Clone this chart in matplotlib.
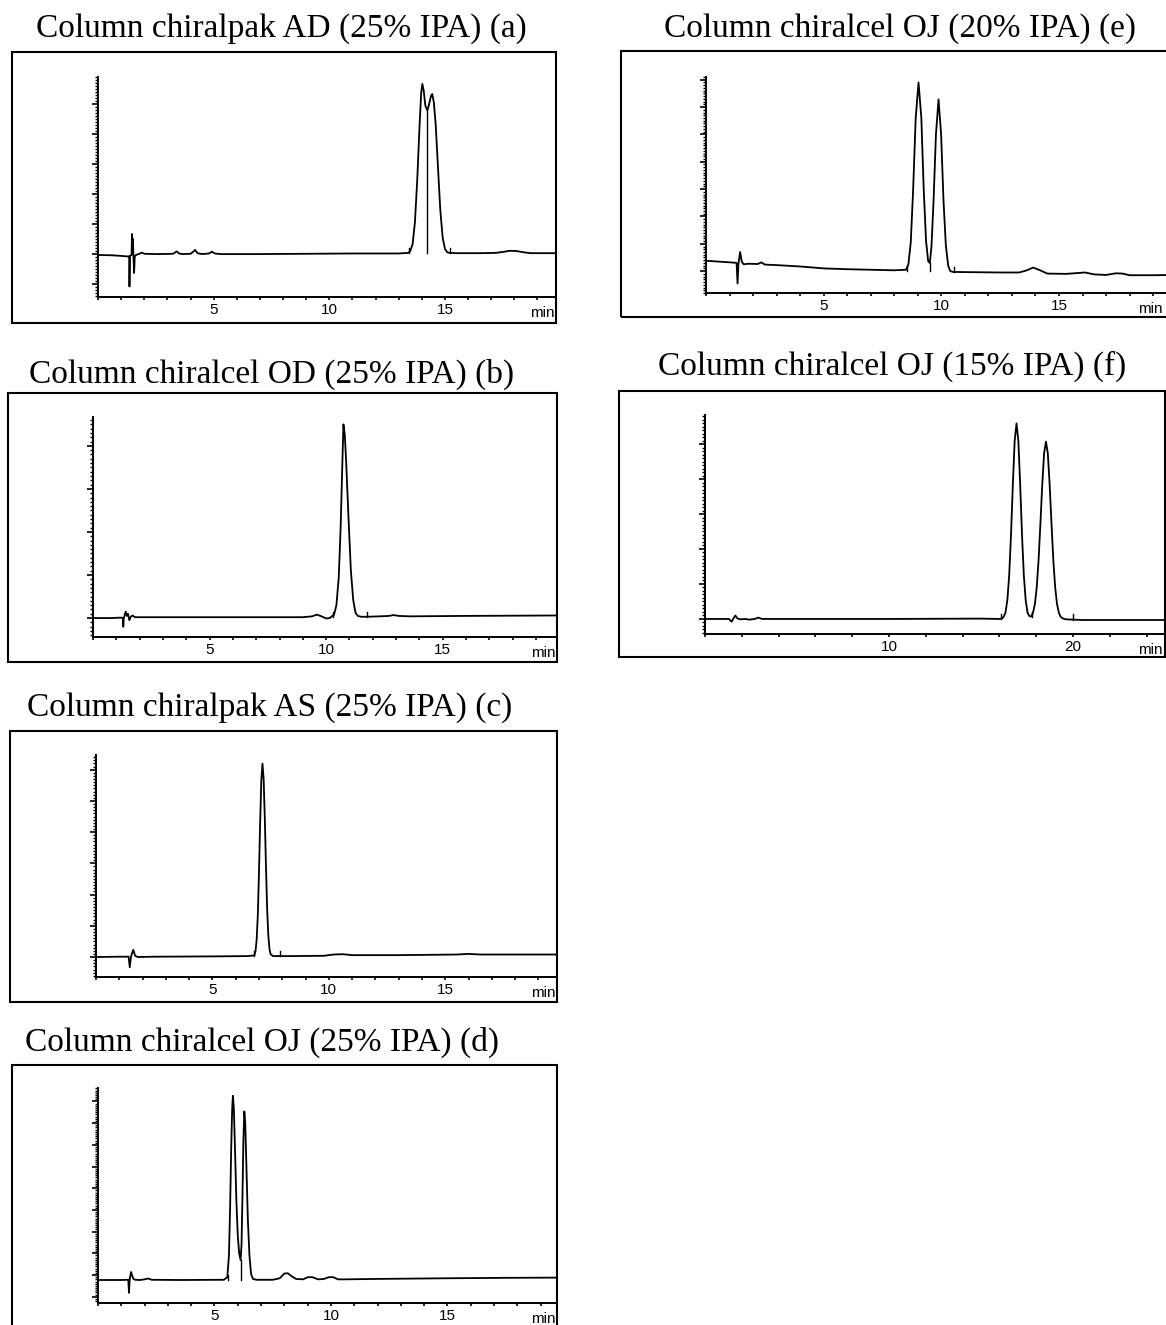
import matplotlib
matplotlib.use("Agg")
import matplotlib.pyplot as plt
from matplotlib.ticker import MultipleLocator, FuncFormatter
from matplotlib.patches import Rectangle

W, H = 1166, 1325

# ---- chromatogram traces: (time in min, signal in major-tick units) ----
a_trace = [(0.0, -0.03), (0.6, -0.04), (1.0, -0.06), (1.3, -0.08), (1.35, -0.07), (1.36, -1.08),
           (1.38, -0.06), (1.45, -0.03), (1.47, 0.67), (1.49, 0.40), (1.51, 0.50), (1.53, -0.02),
           (1.56, -0.63), (1.59, -0.08), (1.64, -0.03), (1.75, 0.0), (1.9, 0.05), (2.0, 0.01),
           (2.6, 0.0), (3.25, 0.01), (3.4, 0.09), (3.5, 0.02), (3.65, 0.0), (4.0, 0.01),
           (4.12, 0.08), (4.2, 0.14), (4.3, 0.03), (4.5, 0.0), (4.8, 0.02), (4.92, 0.08),
           (5.05, 0.02), (5.3, 0.0), (7.0, 0.0), (9.0, 0.01), (11.0, 0.02), (13.0, 0.02),
           (13.4, 0.04), (13.5, 0.10), (13.6, 0.33), (13.7, 1.05), (13.8, 2.45), (13.9, 4.25),
           (13.97, 5.35), (14.02, 5.67), (14.08, 5.45), (14.15, 4.95), (14.24, 4.78), (14.33, 5.05),
           (14.4, 5.28), (14.45, 5.33), (14.52, 5.05), (14.6, 4.30), (14.7, 2.85), (14.8, 1.45),
           (14.9, 0.55), (15.0, 0.17), (15.1, 0.06), (15.2, 0.04), (15.5, 0.03), (16.5, 0.03),
           (17.2, 0.04), (17.5, 0.07), (17.8, 0.11), (18.1, 0.10), (18.4, 0.06), (18.7, 0.03),
           (19.2, 0.03), (19.8, 0.03)]
a_marks = [(13.45, 0.04, 0.2), (15.2, 0.04, 0.2), (14.24, 0.03, 4.78)]

b_trace = [(0.0, 0.0), (0.8, 0.0), (1.2, 0.01), (1.28, 0.0), (1.3, -0.2), (1.32, 0.0), (1.4, 0.15),
           (1.45, 0.05), (1.5, 0.1), (1.56, -0.05), (1.62, 0.03), (1.7, 0.06), (1.8, 0.02),
           (2.0, 0.02), (4.0, 0.02), (7.0, 0.02), (9.0, 0.02), (9.4, 0.04), (9.6, 0.08),
           (9.8, 0.04), (10.0, -0.01), (10.15, 0.0), (10.24, 0.04), (10.34, 0.08), (10.44, 0.30),
           (10.54, 0.95), (10.62, 2.09), (10.68, 3.3), (10.74, 4.5), (10.8, 4.25), (10.86, 3.6),
           (10.96, 2.3), (11.06, 1.1), (11.16, 0.42), (11.26, 0.12), (11.36, 0.05), (11.5, 0.03),
           (11.7, 0.03), (12.3, 0.04), (12.7, 0.05), (12.9, 0.07), (13.1, 0.05), (13.6, 0.04),
           (16.0, 0.05), (19.9, 0.06)]
b_marks = [(10.3, 0.03, 0.15), (11.75, 0.03, 0.15)]

c_trace = [(0.0, 0.0), (1.0, 0.01), (1.4, 0.01), (1.45, -0.33), (1.5, 0.0), (1.55, 0.12),
           (1.6, 0.23), (1.68, 0.04), (1.8, 0.0), (2.5, 0.01), (5.0, 0.02), (6.5, 0.03),
           (6.8, 0.05), (6.85, 0.18), (6.9, 0.55), (6.95, 1.35), (7.0, 2.7), (7.05, 4.3),
           (7.1, 5.65), (7.15, 6.19), (7.2, 5.7), (7.25, 4.45), (7.3, 2.9), (7.35, 1.55),
           (7.4, 0.7), (7.45, 0.26), (7.5, 0.09), (7.6, 0.03), (8.5, 0.03), (9.8, 0.04),
           (10.2, 0.08), (10.6, 0.09), (11.0, 0.06), (13.0, 0.06), (15.5, 0.08), (16.0, 0.10),
           (16.5, 0.08), (19.8, 0.08)]
c_marks = [(6.8, 0.03, 0.18), (7.9, 0.03, 0.2)]

d_trace = [(0.0, -0.23), (1.0, -0.23), (1.3, -0.22), (1.33, -0.82), (1.36, -0.22), (1.42, 0.14),
           (1.47, -0.05), (1.52, -0.18), (1.6, -0.22), (1.8, -0.23), (2.0, -0.2), (2.15, -0.16),
           (2.3, -0.22), (3.5, -0.23), (5.4, -0.22), (5.55, -0.1), (5.62, 0.9), (5.67, 3.1),
           (5.72, 6.0), (5.76, 7.7), (5.79, 8.26), (5.83, 7.7), (5.88, 5.8), (5.94, 3.4),
           (6.0, 1.8), (6.06, 1.0), (6.12, 0.69), (6.16, 1.4), (6.2, 3.6), (6.24, 6.2),
           (6.28, 7.54), (6.32, 7.0), (6.37, 5.0), (6.43, 2.6), (6.5, 0.9), (6.57, 0.05),
           (6.65, -0.18), (6.8, -0.22), (7.5, -0.22), (7.8, -0.15), (8.0, 0.07), (8.15, 0.08),
           (8.3, -0.05), (8.5, -0.18), (8.8, -0.2), (9.0, -0.1), (9.2, -0.1), (9.45, -0.2),
           (9.7, -0.18), (9.9, -0.1), (10.1, -0.1), (10.3, -0.2), (10.6, -0.2), (12.0, -0.18),
           (15.0, -0.15), (17.5, -0.13), (19.7, -0.12)]
d_marks = [(5.6, -0.22, 0.0), (6.12, -0.22, 0.69)]

e_trace = [(0.0, 0.38), (1.2, 0.31), (1.3, 0.3), (1.34, -0.45), (1.38, 0.28), (1.45, 0.7),
           (1.52, 0.35), (1.6, 0.25), (1.8, 0.27), (2.2, 0.26), (2.35, 0.32), (2.5, 0.24),
           (3.0, 0.22), (4.0, 0.17), (5.0, 0.1), (6.0, 0.07), (7.0, 0.05), (8.0, 0.03),
           (8.5, 0.05), (8.6, 0.25), (8.7, 1.05), (8.8, 2.95), (8.91, 5.6), (9.03, 6.9),
           (9.15, 5.6), (9.25, 3.0), (9.35, 1.1), (9.44, 0.36), (9.51, 0.3), (9.58, 0.9),
           (9.67, 2.6), (9.77, 5.0), (9.88, 6.28), (9.99, 5.0), (10.09, 2.6), (10.19, 0.95),
           (10.29, 0.2), (10.38, 0.0), (10.5, -0.03), (11.5, -0.04), (12.5, -0.05), (13.3, -0.05),
           (13.6, 0.02), (13.9, 0.13), (14.2, 0.03), (14.5, -0.09), (15.3, -0.1), (15.8, -0.07),
           (16.1, -0.05), (16.5, -0.12), (17.0, -0.14), (17.4, -0.08), (17.7, -0.09), (18.0, -0.15),
           (19.0, -0.15), (19.9, -0.14)]
e_marks = [(8.55, 0.02, 0.2), (9.51, 0.0, 0.3), (10.55, -0.03, 0.15)]

f_trace = [(0.0, 0.0), (1.3, 0.0), (1.45, -0.08), (1.55, 0.02), (1.65, 0.1), (1.75, 0.02),
           (1.9, -0.01), (2.2, 0.0), (2.4, -0.02), (2.7, 0.0), (2.9, 0.04), (3.1, 0.0),
           (5.0, 0.0), (10.0, 0.0), (15.0, 0.01), (16.0, 0.0), (16.13, 0.01), (16.23, 0.06),
           (16.33, 0.18), (16.43, 0.53), (16.53, 1.23), (16.63, 2.39), (16.73, 3.83), (16.83, 5.09),
           (16.93, 5.59), (17.03, 5.09), (17.13, 3.83), (17.23, 2.39), (17.33, 1.23), (17.43, 0.53),
           (17.53, 0.18), (17.63, 0.08), (17.73, 0.07), (17.83, 0.18), (17.93, 0.43), (18.03, 0.91),
           (18.13, 1.69), (18.23, 2.74), (18.33, 3.85), (18.43, 4.74), (18.53, 5.07), (18.63, 4.74),
           (18.73, 3.85), (18.83, 2.74), (18.93, 1.69), (19.03, 0.91), (19.13, 0.43), (19.23, 0.18),
           (19.33, 0.06), (19.43, 0.02), (19.6, -0.01), (20.5, -0.03), (25.0, -0.03)]
f_marks = [(16.1, 0.0, 0.15), (17.75, 0.07, 0.2), (20.0, -0.03, 0.15)]

titles = ["Column chiralpak AD (25% IPA) (a)", "Column chiralcel OD (25% IPA) (b)",
          "Column chiralpak AS (25% IPA) (c)", "Column chiralcel OJ (25% IPA) (d)",
          "Column chiralcel OJ (20% IPA) (e)", "Column chiralcel OJ (15% IPA) (f)"]

fig = plt.figure(figsize=(W / 100, H / 100), dpi=100)


def fx(x):
    return x / W


def fy(y):
    return 1 - y / H


def panel(title, title_pos, frame, box, trace, marks, xmax, ylim, xstep, lstep):
    # frame around the chromatogram
    fl, ft, fr, fb = frame
    fig.add_artist(Rectangle((fx(fl), fy(fb)), fx(fr - fl), (fb - ft) / H, fill=False,
                             lw=1.5, ec="black", transform=fig.transFigure))
    fig.text(fx(title_pos[0]), fy(title_pos[1]), title, ha="center", va="baseline",
             family="Liberation Serif", fontsize=24)

    l, t, r, b = box
    ax = fig.add_axes([fx(l), fy(b), fx(r - l), (b - t) / H])
    ts = [p[0] for p in trace]
    ys = [p[1] for p in trace]
    ax.plot(ts, ys, color="black", lw=1.3)
    for m in marks:
        ax.plot([m[0], m[0]], [m[1], m[2]], color="black", lw=1.0)
    ax.set_xlim(0, xmax)
    ax.set_ylim(*ylim)
    for s in ("top", "right"):
        ax.spines[s].set_visible(False)
    for s in ("left", "bottom"):
        ax.spines[s].set_linewidth(1.4)
    ax.yaxis.set_major_locator(MultipleLocator(1))
    ax.yaxis.set_minor_locator(MultipleLocator(0.1))
    ax.yaxis.set_major_formatter(FuncFormatter(lambda v, p: ""))
    ax.tick_params(axis="y", which="major", direction="out", length=4.5, width=1.2)
    ax.tick_params(axis="y", which="minor", direction="out", length=2.2, width=1.0)
    ax.xaxis.set_major_locator(MultipleLocator(xstep))
    ax.xaxis.set_major_formatter(FuncFormatter(
        lambda v, p: "%d" % round(v) if v > 0 and abs(v / lstep - round(v / lstep)) < 1e-6 else ""))
    ax.tick_params(axis="x", direction="out", length=2.5, width=1.2, pad=1.5,
                   labelsize=11)
    for lab in ax.get_xticklabels():
        lab.set_family("Liberation Sans")
    fig.text(fx(min(r - 1, W - 3)), fy(b + 16), "min", ha="right", va="center",
             family="Liberation Sans", fontsize=11)
    return ax


panel(titles[0], (281, 37), (12, 52, 556, 323), (98, 77, 556, 297), a_trace, a_marks,
      19.8, (-1.43, 5.9), 1, 5)
panel(titles[1], (272, 383), (8, 393, 557, 662), (93, 417, 557, 637), b_trace, b_marks,
      19.9, (-0.44, 4.67), 1, 5)
panel(titles[2], (270, 716), (10, 731, 557, 1002), (96, 755, 557, 977), c_trace, c_marks,
      19.8, (-0.64, 6.47), 1, 5)
panel(titles[3], (262, 1051), (12, 1065, 557, 1330), (98, 1088, 557, 1303), d_trace, d_marks,
      19.7, (-1.29, 8.62), 1, 5)
panel(titles[4], (900, 37), (621, 51, 1172, 317), (706, 77, 1172, 293), e_trace, e_marks,
      19.8, (-0.8, 7.1), 1, 5)
panel(titles[5], (892, 375), (619, 391, 1165, 657), (705, 415, 1165, 634), f_trace, f_marks,
      25.0, (-0.43, 5.83), 2, 10)

fig.savefig("out.png", dpi=100)
